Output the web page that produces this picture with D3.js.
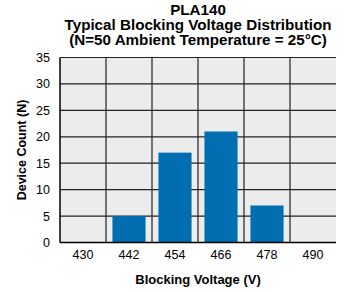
<!DOCTYPE html>
<html>
<head>
<meta charset="utf-8">
<script src="https://cdn.jsdelivr.net/npm/d3@7"></script>
<style>
  body { margin: 0; background: #fff; }
  svg text { font-family: "Liberation Sans", Arial, sans-serif; fill: #000; }
</style>
</head>
<body>
<div id="chart"></div>
<script>
const voltages = ["430", "442", "454", "466", "478", "490"];
const counts = [0, 5, 17, 21, 7, 0];
const yTicks = [0, 5, 10, 15, 20, 25, 30, 35];
const titleLines = ["PLA140", "Typical Blocking Voltage Distribution", "(N=50 Ambient Temperature = 25\u00B0C)"];

const width = 345, height = 292;
const margin = { top: 57.5, right: 9, bottom: 49.5, left: 60 };
const plotW = width - margin.left - margin.right;
const plotH = height - margin.top - margin.bottom;

const svg = d3.select("#chart").append("svg")
    .attr("width", width)
    .attr("height", height);

const x = d3.scaleBand().domain(voltages).range([0, plotW]).paddingInner(0).paddingOuter(0);
const y = d3.scaleLinear().domain([0, 35]).range([plotH, 0]);

const g = svg.append("g").attr("transform", `translate(${margin.left},${margin.top})`);

// plot background
g.append("rect")
    .attr("width", plotW)
    .attr("height", plotH)
    .attr("fill", "#ececec");

// gridlines
g.selectAll(".hgrid").data(yTicks).enter().append("line")
    .attr("x1", 0).attr("x2", plotW)
    .attr("y1", d => y(d)).attr("y2", d => y(d))
    .attr("stroke", "#222").attr("stroke-width", 1.2);

g.selectAll(".vgrid").data(voltages.slice(1)).enter().append("line")
    .attr("x1", d => x(d)).attr("x2", d => x(d))
    .attr("y1", 0).attr("y2", plotH)
    .attr("stroke", "#222").attr("stroke-width", 1.2);

// bars
g.selectAll(".bar").data(voltages).enter().append("rect")
    .attr("x", d => x(d) + x.bandwidth() * 0.14)
    .attr("width", x.bandwidth() * 0.72)
    .attr("y", (d, i) => y(counts[i]))
    .attr("height", (d, i) => plotH - y(counts[i]))
    .attr("fill", "#006eb0");

// frame: left + bottom axis lines
g.append("line").attr("x1", 0).attr("x2", 0).attr("y1", 0).attr("y2", plotH)
    .attr("stroke", "#000").attr("stroke-width", 1.5);
g.append("line").attr("x1", 0).attr("x2", plotW).attr("y1", plotH).attr("y2", plotH)
    .attr("stroke", "#000").attr("stroke-width", 1.5);

// axes labels
const yAxis = g.append("g").call(d3.axisLeft(y).tickValues(yTicks).tickSize(0).tickPadding(10));
yAxis.select(".domain").remove();
yAxis.selectAll("text").style("font-size", "12.5px").attr("fill", "#000");

const xAxis = g.append("g").attr("transform", `translate(0,${plotH})`)
    .call(d3.axisBottom(x).tickSize(0).tickPadding(8));
xAxis.select(".domain").remove();
xAxis.selectAll("text").style("font-size", "12.5px").attr("fill", "#000");

// titles
svg.append("g").selectAll("text").data(titleLines).enter().append("text")
    .attr("x", margin.left + plotW / 2)
    .attr("y", (d, i) => 14.5 + i * 15.3)
    .attr("text-anchor", "middle")
    .style("font-size", "15.2px")
    .style("font-weight", "bold")
    .text(d => d);

svg.append("text")
    .attr("x", margin.left + plotW / 2)
    .attr("y", 284)
    .attr("text-anchor", "middle")
    .style("font-size", "13px")
    .style("font-weight", "bold")
    .text("Blocking Voltage (V)");

svg.append("text")
    .attr("transform", `translate(26,${margin.top + plotH / 2}) rotate(-90)`)
    .attr("text-anchor", "middle")
    .style("font-size", "12.5px")
    .style("font-weight", "bold")
    .text("Device Count (N)");
</script>
</body>
</html>
